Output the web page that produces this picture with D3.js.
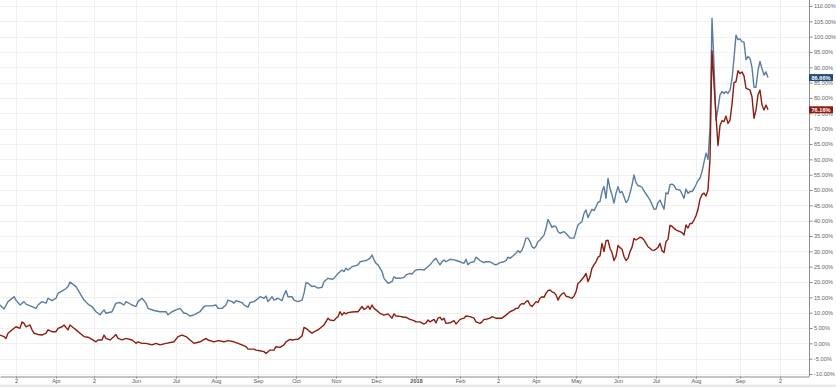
<!DOCTYPE html>
<html>
<head>
<meta charset="utf-8">
<script src="https://cdn.jsdelivr.net/npm/d3@7"></script>
<style>
    body { margin: 0; background: #fff; }
    svg { display: block; }
    text { font-family: Arial, "Liberation Sans", sans-serif; }
</style>
</head>
<body>
<svg id="chart" width="836" height="387"></svg>
<script>
// [trading day index, % change]
const blue = [[0,12.5],[2,11.2],[4,13.6],[7,15.2],[8,14.1],[10,12.5],[12,13.6],[13,12.8],[16,12.0],[18,11.4],[19,12.5],[21,13.6],[23,13.1],[24,14.7],[26,13.9],[28,14.7],[29,16.3],[32,17.4],[33,17.9],[34,18.5],[35,20.0],[38,18.5],[39,17.4],[40,16.3],[42,14.1],[44,12.8],[46,12.0],[48,10.3],[50,9.3],[52,10.9],[53,9.8],[56,10.3],[58,13.1],[60,13.3],[62,12.5],[63,13.6],[66,12.5],[68,12.0],[69,13.6],[71,14.7],[73,13.1],[74,11.4],[77,10.7],[80,10.3],[83,10.3],[84,9.3],[86,10.3],[88,10.9],[90,11.4],[92,9.8],[93,9.8],[95,8.9],[97,9.3],
    [100,10.3],[102,12.0],[103,12.2],[106,12.2],[108,12.5],[109,11.4],[111,11.4],[113,12.5],[114,14.1],[116,13.6],[117,13.1],[118,13.9],[121,13.3],[122,12.5],[124,11.8],[125,13.3],[127,13.6],[128,14.1],[130,15.2],[132,14.7],[133,15.4],[134,13.6],[136,15.2],[137,14.1],[139,14.7],[141,13.9],[142,15.8],[143,17.2],[144,15.2],[146,15.2],[147,14.1],[149,13.6],[151,14.1],[152,16.3],[153,19.8],[154,19.6],[156,18.5],[157,18.7],[159,18.0],[161,18.3],[162,20.1],[164,21.2],[166,20.9],[167,21.2],[169,22.8],[171,23.9],[172,23.4],[173,24.5],[174,23.9],[176,25.0],[177,25.2],[179,25.6],[180,26.6],[182,26.9],[183,27.0],[185,27.7],[186,28.8],[187,27.2],[188,26.1],[189,25.6],[191,23.4],[192,21.2],[194,19.6],[196,20.1],[197,21.7],[198,21.2],
    [200,21.2],[202,21.5],[203,22.3],[205,22.8],[206,22.6],[207,23.4],[208,23.9],[210,24.1],[212,23.9],[213,24.5],[215,25.6],[217,27.2],[218,27.7],[219,26.6],[220,25.6],[221,26.6],[222,27.2],[223,26.6],[225,27.4],[227,27.2],[228,27.0],[230,26.6],[232,26.1],[233,27.4],[234,25.6],[235,26.3],[237,26.6],[238,28.1],[240,27.0],[242,26.3],[243,26.6],[245,26.6],[247,25.8],[248,25.6],[250,26.3],[252,26.6],[253,27.0],[254,28.1],[255,27.7],[257,28.8],[258,29.4],[259,30.2],[260,29.6],[261,30.4],[262,32.1],[263,34.3],[264,34.3],[265,33.2],[266,31.5],[267,31.0],[268,31.7],[269,33.2],[270,33.7],[272,35.3],[273,37.5],[274,40.4],[275,39.1],[276,37.8],[277,38.3],[278,38.0],[279,36.4],[280,35.9],[282,36.4],[283,35.9],[285,34.3],[287,34.3],[288,36.5],[289,38.6],[291,39.7],[292,42.4],[293,43.5],[294,41.0],[295,42.4],[296,43.7],[297,43.3],[298,44.5],[299,46.0],
    [300,46.2],[301,49.5],[302,51.1],[303,47.3],[304,53.8],[305,50.5],[306,48.4],[307,45.7],[308,48.9],[309,51.1],[310,49.1],[311,49.5],[312,47.8],[313,45.9],[314,46.7],[315,48.9],[316,51.6],[317,54.9],[318,52.4],[319,51.4],[320,51.3],[321,50.9],[322,49.7],[323,48.7],[324,47.8],[325,46.7],[326,45.3],[327,43.7],[328,43.8],[329,45.9],[330,46.7],[331,45.2],[332,43.7],[333,49.1],[334,48.7],[335,51.7],[336,51.9],[337,51.5],[338,50.3],[339,50.1],[340,50.0],[341,48.7],[342,47.3],[343,50.3],[344,48.9],[345,49.5],[346,49.5],[347,50.4],[348,51.7],[349,53.1],
    [350,53.8],[351,56.0],[352,59.0],[353,62.0],[354,60.0],[355,70.0],[356,106.0],[357,90.9],[358,72.8],[359,76.6],[360,81.0],[361,82.1],[362,81.5],[363,82.1],[364,81.5],[365,82.6],[366,86.2],[367,93.0],[368,100.5],[369,99.0],[370,99.3],[371,98.4],[372,98.2],[373,92.5],[374,93.5],[375,92.9],[376,90.0],[377,83.5],[378,83.5],[379,89.0],[380,91.9],[381,89.5],[382,87.5],[383,88.5],[384,86.66]];

const red = [[0,2.7],[2,2.2],[3,1.6],[4,3.3],[7,4.9],[8,5.4],[10,4.9],[11,7.0],[12,6.5],[13,5.4],[15,6.0],[16,4.4],[17,3.3],[19,2.9],[21,2.7],[23,3.3],[24,4.4],[26,3.8],[28,3.8],[29,4.9],[31,5.4],[32,6.0],[34,4.4],[35,6.0],[37,4.9],[38,4.4],[40,3.3],[42,2.2],[44,2.0],[46,1.3],[48,0.5],[49,1.1],[51,1.1],[52,2.7],[53,1.6],[55,1.1],[57,2.2],[58,2.9],[59,1.6],[61,1.1],[63,1.6],[66,1.1],[68,0.0],[69,0.5],[71,0.0],[73,0.0],[76,-0.5],[78,0.0],[80,-0.5],[83,0.0],[87,0.5],[89,2.2],[91,2.7],[93,2.2],[95,1.1],[97,0.0],
    [100,0.5],[103,1.6],[104,1.1],[107,0.5],[109,0.9],[112,0.5],[114,0.9],[117,0.5],[119,0.0],[121,-0.5],[123,-1.1],[124,-1.9],[127,-1.9],[128,-2.2],[130,-2.4],[132,-2.7],[133,-3.3],[135,-2.2],[137,-2.2],[138,-1.1],[140,-1.3],[142,-0.5],[143,0.5],[145,1.3],[146,1.1],[148,1.3],[149,1.3],[151,2.4],[152,5.2],[153,4.9],[155,3.8],[156,3.3],[158,4.1],[159,4.4],[160,4.9],[162,6.0],[163,7.1],[164,8.2],[165,7.6],[167,7.4],[168,8.2],[169,8.7],[170,10.3],[171,9.2],[172,10.0],[173,9.6],[174,10.0],[176,10.2],[178,10.3],[179,10.3],[181,12.0],[182,11.1],[183,11.4],[184,12.2],[185,11.1],[186,12.5],[187,11.4],[188,10.9],[190,9.8],[192,9.2],[194,9.6],[196,8.2],[197,9.6],[198,8.9],
    [200,8.8],[202,8.5],[203,8.5],[205,7.8],[207,7.4],[208,7.0],[210,7.0],[212,6.3],[213,6.7],[214,7.6],[215,7.0],[217,7.8],[218,6.7],[219,8.2],[220,8.5],[221,7.6],[222,8.2],[223,6.5],[225,6.7],[227,7.4],[228,6.3],[229,7.0],[230,7.8],[232,8.2],[233,8.9],[235,8.7],[237,8.2],[238,7.0],[240,6.5],[241,7.0],[242,7.8],[243,7.8],[245,8.2],[246,8.7],[248,8.2],[249,8.2],[251,8.2],[252,8.7],[253,9.2],[255,10.3],[257,10.9],[258,11.4],[259,11.4],[260,12.5],[261,13.0],[262,12.8],[263,13.6],[264,13.9],[265,12.5],[266,12.0],[267,12.8],[268,13.6],[269,13.3],[270,14.7],[271,15.2],[272,15.0],[273,16.3],[274,17.2],[275,17.4],[276,16.8],[277,16.5],[278,15.8],[279,14.1],[280,15.4],[281,16.1],[282,16.5],[283,15.4],[284,15.2],[285,14.9],[286,14.7],[287,15.4],[288,16.8],[289,19.6],[290,20.1],[291,20.9],[292,21.7],[293,22.8],[294,20.1],[295,21.7],[296,24.5],[297,25.6],[298,26.6],[299,28.1],
    [300,28.5],[301,32.6],[302,29.9],[303,33.5],[304,33.6],[305,31.0],[306,29.6],[307,27.0],[308,28.3],[309,31.9],[310,31.2],[311,30.7],[312,28.3],[313,27.0],[314,27.7],[315,29.9],[316,31.3],[317,34.2],[318,33.7],[319,34.1],[320,34.6],[321,34.4],[322,33.7],[323,32.6],[324,31.5],[325,31.0],[326,30.4],[327,30.3],[328,30.7],[329,31.3],[330,32.6],[331,30.2],[332,29.6],[333,33.2],[334,33.9],[335,38.5],[336,38.2],[337,37.5],[338,37.0],[339,36.7],[340,36.4],[341,36.1],[342,35.3],[343,38.6],[344,37.6],[345,39.1],[346,39.1],[347,40.2],[348,41.6],[349,43.7],
    [350,47.0],[351,48.5],[352,49.0],[353,48.0],[354,50.0],[355,60.0],[356,95.4],[357,84.7],[358,74.0],[359,64.5],[360,71.0],[361,72.6],[362,72.3],[363,74.1],[364,71.7],[365,72.8],[366,78.0],[367,85.0],[368,85.3],[369,88.9],[370,88.0],[371,88.5],[372,87.2],[373,83.2],[374,82.9],[375,82.6],[376,80.4],[377,73.4],[378,76.1],[379,81.0],[380,82.6],[381,77.7],[382,76.1],[383,77.7],[384,76.16]];

// first trading day of each month on the x axis
const tickDays = [8, 28, 47, 68, 88, 108, 129, 148, 168, 188, 208, 230, 249, 268, 288, 309, 328, 348, 370, 390];
const tickLabels = ["2", "Apr", "2", "Jun", "Jul", "Aug", "Sep", "Oct", "Nov", "Dec", "2018", "Feb", "2", "Apr", "May", "Jun", "Jul", "Aug", "Sep", "2"];

const blueColor = "#5a7d9f", redColor = "#8e1c10";
const W = 836, H = 387, plotRight = 809, axisY = 376;

let svg = d3.select("#chart");

let x = d3.scaleLinear().domain([0, 404.5]).range([0, plotRight]);
let y = d3.scaleLinear().domain([-10, 110]).range([374, 6]);
let yTicks = d3.range(-10, 111, 5);

// grid
svg.append("g")
    .selectAll("line")
    .data(yTicks)
    .join("line")
    .attr("x1", 0).attr("x2", plotRight)
    .attr("y1", d => Math.round(y(d)) + 0.5).attr("y2", d => Math.round(y(d)) + 0.5)
    .attr("stroke", "#f0f0f0");
svg.append("g")
    .selectAll("line")
    .data(tickDays)
    .join("line")
    .attr("x1", d => Math.round(x(d)) + 0.5).attr("x2", d => Math.round(x(d)) + 0.5)
    .attr("y1", 0).attr("y2", axisY)
    .attr("stroke", "#f0f0f0");

// series
let line = d3.line().x(d => x(d[0])).y(d => y(d[1]));
[[blue, blueColor], [red, redColor]].forEach(([data, color]) => {
    svg.append("path")
        .datum(data)
        .attr("d", line)
        .attr("fill", "none")
        .attr("stroke", color)
        .attr("stroke-width", 1.4)
        .attr("stroke-linejoin", "round");
});

// bottom strip
svg.append("rect").attr("x", 0).attr("y", 384.5).attr("width", W).attr("height", H - 384.5).attr("fill", "#e9e9e9");

// x axis
let xAxis = svg.append("g")
    .attr("transform", `translate(0,${axisY + 0.5})`)
    .call(d3.axisBottom(x).tickValues(tickDays).tickFormat((d, i) => tickLabels[i]).tickSize(2).tickSizeOuter(0).tickPadding(1));
xAxis.select(".domain").attr("stroke", "#8a8a8a");
xAxis.selectAll(".tick line").attr("stroke", "#8a8a8a");
xAxis.selectAll("text")
    .attr("font-size", 5.6)
    .attr("fill", "#555")
    .attr("font-weight", (d, i) => tickLabels[i] === "2018" ? "bold" : null);

// y axis on the right
let yAxis = svg.append("g")
    .attr("transform", `translate(${plotRight + 0.5},0)`)
    .call(d3.axisRight(y).tickValues(yTicks).tickFormat(d => d.toFixed(2) + "%").tickSize(3).tickSizeOuter(0).tickPadding(1.5));
yAxis.select(".domain").remove();
yAxis.selectAll(".tick line").attr("stroke", "#8a8a8a");
yAxis.selectAll("text").attr("font-size", 5.6).attr("fill", "#666");
svg.append("line")
    .attr("x1", plotRight + 0.5).attr("x2", plotRight + 0.5)
    .attr("y1", 0).attr("y2", axisY + 0.5)
    .attr("stroke", "#8a8a8a");

// last value tags
[[blue, "#1f4d78"], [red, "#8e1c10"]].forEach(([data, color]) => {
    let last = data[data.length - 1];
    let g = svg.append("g").attr("transform", `translate(${plotRight},${y(last[1])})`);
    g.append("rect").attr("x", 0).attr("y", -3.5).attr("width", 24).attr("height", 7).attr("fill", color);
    g.append("text")
        .attr("x", 12).attr("y", 0).attr("dy", "0.35em")
        .attr("text-anchor", "middle")
        .attr("font-size", 5.6).attr("font-weight", "bold").attr("fill", "#fff")
        .text(last[1].toFixed(2) + "%");
});
</script>
</body>
</html>
